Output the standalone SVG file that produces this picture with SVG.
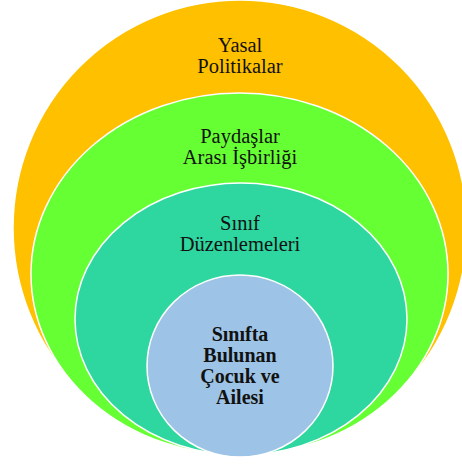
<svg xmlns="http://www.w3.org/2000/svg" width="462" height="466" viewBox="0 0 462 466">
<style>
.ring{stroke:#ffffff;stroke-width:1.5}
text{font-family:'Liberation Serif','Times New Roman',serif;fill:#111;text-anchor:middle}
.t{font-size:20.5px}
.b{font-size:20px;font-weight:bold}
</style>
<rect width="462" height="466" fill="#ffffff"/>
<g id="yasal">
<ellipse class="ring" cx="240" cy="228" rx="227" ry="228" fill="#FFC000"/>
<text class="t" x="240" y="52">Yasal</text>
<text class="t" x="240" y="73">Politikalar</text>
</g>
<g id="paydaslar">
<ellipse class="ring" cx="239.5" cy="274" rx="208.5" ry="181" fill="#66FF33"/>
<text class="t" x="240" y="143">Paydaşlar</text>
<text class="t" x="240" y="164">Arası İşbirliği</text>
</g>
<g id="sinif">
<ellipse class="ring" cx="241" cy="319" rx="166" ry="136" fill="#2ED6A0"/>
<text class="t" x="240" y="230">Sınıf</text>
<text class="t" x="240" y="251">Düzenlemeleri</text>
</g>
<g id="cocuk">
<ellipse class="ring" cx="240" cy="366" rx="93" ry="91" fill="#9DC3E6"/>
<text class="b" x="240" y="341">Sınıfta</text>
<text class="b" x="240" y="362">Bulunan</text>
<text class="b" x="240" y="383">Çocuk ve</text>
<text class="b" x="240" y="404">Ailesi</text>
</g>
</svg>
